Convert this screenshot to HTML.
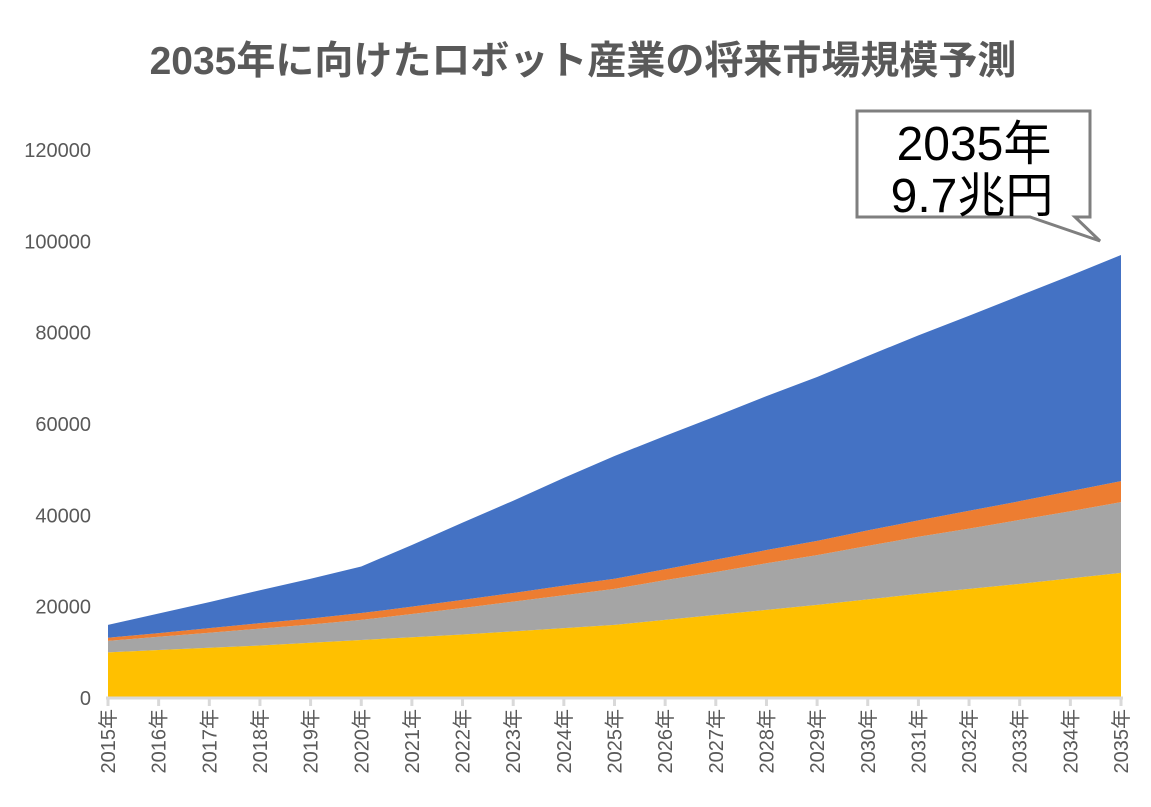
<!DOCTYPE html>
<html><head><meta charset="utf-8"><style>
body{margin:0;background:#fff;width:1151px;height:802px;overflow:hidden;font-family:"Liberation Sans","Noto Sans CJK JP",sans-serif}
</style></head><body>
<svg id="chart" width="1151" height="802" xmlns="http://www.w3.org/2000/svg" font-family="Liberation Sans, Noto Sans CJK JP, sans-serif">
<text x="583" y="74" text-anchor="middle" font-size="39" font-weight="bold" fill="#595959">2035年に向けたロボット産業の将来市場規模予測</text>
<g id="areas"></g>
<g id="yaxis"></g>
<g id="xaxis"></g>
<g>
<polygon points="857,111 1090,111 1090,217 1075,217 1100,241 1030,217 857,217" fill="#fff" stroke="#7f7f7f" stroke-width="3" stroke-linejoin="miter"/>
<text x="974" y="160" text-anchor="middle" font-size="48" fill="#000">2035年</text>
<text x="972" y="212" text-anchor="middle" font-size="48" fill="#000">9.7兆円</text>
</g>
</svg>
<script>
const categories=["2015年","2016年","2017年","2018年","2019年","2020年","2021年","2022年","2023年","2024年","2025年","2026年","2027年","2028年","2029年","2030年","2031年","2032年","2033年","2034年","2035年"];
const yellowSeries=[10000,10500,11000,11500,12100,12700,13300,13900,14600,15300,16000,17100,18200,19300,20400,21600,22800,23900,25000,26200,27400];
const graySeries=[2500,2900,3300,3700,4000,4400,5100,5800,6500,7200,7900,8700,9400,10200,10900,11700,12500,13200,14000,14700,15500];
const orangeSeries=[700,800,1000,1200,1300,1500,1600,1800,1900,2100,2200,2400,2700,2900,3100,3400,3600,3900,4100,4400,4600];
const blueSeries=[2800,4300,5700,7200,8700,10200,13500,16900,20200,23600,26900,29200,31400,33700,35900,38200,40500,42700,45000,47200,49500];
const yTicks=[0,20000,40000,60000,80000,100000,120000];
const NS="http://www.w3.org/2000/svg";
const x0=108,x1=1121,yBase=698,yTop=150,yMax=120000;
const xs=i=>x0+(x1-x0)*i/(categories.length-1);
const ys=v=>yBase-(yBase-yTop)*v/yMax;
const series=[[yellowSeries,"#ffc000","area-yellow"],[graySeries,"#a5a5a5","area-gray"],[orangeSeries,"#ed7d31","area-orange"],[blueSeries,"#4472c4","area-blue"]];
const areas=document.getElementById("areas");
let base=categories.map(()=>0);
series.forEach(([vals,col,name])=>{
  const top=base.map((b,i)=>b+vals[i]);
  let pts=top.map((v,i)=>xs(i)+","+ys(v));
  for(let i=categories.length-1;i>=0;i--)pts.push(xs(i)+","+ys(base[i]));
  const p=document.createElementNS(NS,"polygon");
  p.setAttribute("points",pts.join(" "));
  p.setAttribute("fill",col);
  
  
  areas.appendChild(p);
  base=top;
});
const ya=document.getElementById("yaxis");
yTicks.forEach(v=>{
  const t=document.createElementNS(NS,"text");
  t.setAttribute("x",91);t.setAttribute("y",ys(v)+7);
  t.setAttribute("text-anchor","end");t.setAttribute("font-size","20");t.setAttribute("fill","#595959");
  t.textContent=v;
  
  
  ya.appendChild(t);
});
const xa=document.getElementById("xaxis");
const ax=document.createElementNS(NS,"line");
ax.setAttribute("x1",x0-2);ax.setAttribute("x2",x1+2);ax.setAttribute("y1",yBase);ax.setAttribute("y2",yBase);
ax.setAttribute("stroke","#d9d9d9");ax.setAttribute("stroke-width","3");


xa.appendChild(ax);
categories.forEach((c,i)=>{
  const tk=document.createElementNS(NS,"line");
  tk.setAttribute("x1",xs(i));tk.setAttribute("x2",xs(i));tk.setAttribute("y1",yBase);tk.setAttribute("y2",yBase+8);
  tk.setAttribute("stroke","#d9d9d9");tk.setAttribute("stroke-width","3");
  
  
  xa.appendChild(tk);
  const t=document.createElementNS(NS,"text");
  const x=xs(i)+7,y=yBase+11;
  t.setAttribute("x",x);t.setAttribute("y",y);
  t.setAttribute("transform","rotate(-90 "+x+" "+y+")");
  t.setAttribute("text-anchor","end");t.setAttribute("font-size","20");t.setAttribute("fill","#595959");
  t.textContent=c;
  
  
  xa.appendChild(t);
});
</script>
</body></html>
